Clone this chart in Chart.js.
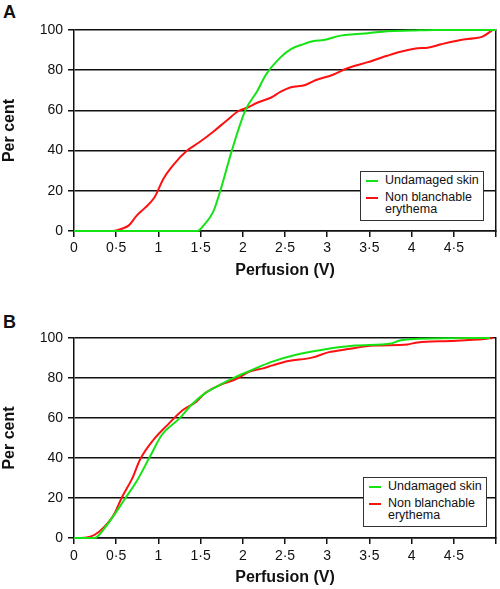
<!DOCTYPE html>
<html>

<head>
  <meta charset="utf-8">
  <script src="https://cdn.jsdelivr.net/npm/chart.js@4.4.0/dist/chart.umd.min.js"></script>
  <style>
    body { margin: 0; background: #fff; font-family: 'Liberation Sans', Arial, sans-serif; }
    #page { position: relative; width: 500px; height: 589px; }
    .panel { position: absolute; left: 0; width: 500px; }
    .tag { position: absolute; left: 3px; font-size: 18px; font-weight: bold; line-height: 18px; color: #111; }
    .legend { position: absolute; box-sizing: border-box; width: 124px; height: 50px; background: #fff;
              border: 1.5px solid #333; padding: 2px 0 0 5px; font-size: 12.5px; color: #111; }
    .item { position: relative; padding-left: 19px; line-height: 13px; }
    .item + .item { margin-top: 5px; line-height: 11.5px; }
    .item span { position: absolute; left: 0; width: 12px; height: 2px; }
  </style>
</head>

<body>
  <div id="page">
    <div class="tag" style="top: 3px">A</div>
    <div class="panel" style="top: 0; height: 290px"><canvas id="chartA" width="500" height="290"></canvas></div>
    <div id="legendA" class="legend" style="left: 360px; top: 171px"></div>

    <div class="tag" style="top: 313px">B</div>
    <div class="panel" style="top: 300px; height: 289px"><canvas id="chartB" width="500" height="289"></canvas></div>
    <div id="legendB" class="legend" style="left: 363px; top: 477px"></div>
  </div>

  <script>
    // series labels
    var seriesNames = ['Undamaged skin', 'Non blanchable erythema'];
    var seriesColors = ['#14e314', '#ff1010'];

    // x tick values (last one has no label)
    var xTicks = [0, 0.5, 1, 1.5, 2, 2.5, 3, 3.5, 4, 4.5, 5];
    var yTicks = [0, 20, 40, 60, 80, 100];

    // panel A - undamaged skin
    var aGreenX = [0, 1.46, 1.54, 1.65, 1.73, 1.87, 2.03, 2.17, 2.27, 2.45, 2.57, 2.72, 2.84, 2.96, 3.16, 3.32, 3.48, 3.71, 4.0, 4.27, 5.0];
    var aGreenY = [0, 0, 3, 9.6, 19.5, 40, 60, 69.5, 77.5, 86.5, 90.5, 93, 94.5, 95, 97.2, 97.9, 98.4, 99.4, 99.7, 100, 100];
    // panel A - non blanchable erythema
    var aRedX = [0, 0.46, 0.56, 0.65, 0.74, 0.84, 0.95, 1.06, 1.18, 1.34, 1.48, 1.65, 1.81, 1.95, 2.05, 2.17, 2.33, 2.45, 2.57, 2.74, 2.86, 3.06, 3.24, 3.48, 3.71, 3.87, 4.07, 4.19, 4.35, 4.58, 4.74, 4.84, 4.96];
    var aRedY = [0, 0, 1, 2.8, 7.5, 11.5, 16.5, 26, 33, 40, 44, 49.4, 55, 59.7, 61.3, 63.8, 66.3, 69.3, 71.5, 72.6, 75, 77.6, 81, 84, 87.2, 89.2, 90.9, 91.2, 92.9, 95, 95.9, 96.7, 100];

    // panel B - undamaged skin
    var bGreenX = [0, 0.24, 0.39, 0.61, 0.74, 0.9, 1.04, 1.25, 1.39, 1.55, 1.69, 1.88, 2.08, 2.2, 2.35, 2.62, 2.93, 3.33, 3.76, 3.86, 4.03, 4.93];
    var bGreenY = [0, 0, 6.5, 20, 28.2, 40.7, 51.5, 59.8, 66.5, 72.3, 75.7, 79.8, 83.5, 85.7, 88.2, 91.5, 94, 96.2, 97.3, 98.7, 99.5, 100];
    // panel B - non blanchable erythema
    var bRedX = [0.05, 0.15, 0.24, 0.35, 0.47, 0.57, 0.69, 0.78, 0.94, 1.1, 1.29, 1.45, 1.55, 1.73, 1.92, 2.08, 2.24, 2.35, 2.54, 2.82, 3.01, 3.25, 3.56, 3.95, 4.07, 4.46, 4.86, 4.96];
    var bRedY = [0, 0.3, 1.5, 5.2, 11.5, 20.5, 29.8, 39, 49, 56.2, 64, 68.2, 72.3, 76.5, 79.5, 83.2, 84.8, 86.3, 88.5, 90.2, 92.8, 94.5, 96.2, 96.8, 97.8, 98.5, 99.5, 100];

    Chart.defaults.font.family = "'Liberation Sans', Arial, sans-serif";
    Chart.defaults.color = '#111';

    function points(xs, ys) {
      return xs.map(function(x, i) { return { x: x, y: ys[i] }; });
    }

    function fmt(v) {
      return String(v).replace('.', '\u00b7');
    }

    function makePanel(id, greenX, greenY, redX, redY, geo) {
      var ctx = document.getElementById(id).getContext('2d');
      var series = [points(greenX, greenY), points(redX, redY)];
      return new Chart(ctx, {
        type: 'line',
        data: {
          datasets: series.map(function(d, i) {
            return {
              label: seriesNames[i],
              data: d,
              borderColor: seriesColors[i],
              borderWidth: 2,
              pointRadius: 0,
              cubicInterpolationMode: 'monotone',
              clip: false
            };
          })
        },
        options: {
          responsive: false,
          animation: false,
          layout: { padding: { top: geo.top, right: geo.right, left: 0, bottom: 0 } },
          plugins: { legend: { display: false }, tooltip: { enabled: false } },
          scales: {
            x: {
              type: 'linear', min: 0, max: 5,
              afterBuildTicks: function(s) { s.ticks = xTicks.map(function(v) { return { value: v }; }); },
              afterFit: function(s) { s.height = geo.xHeight; },
              ticks: {
                autoSkip: false, maxRotation: 0, padding: geo.tickPad,
                font: { size: 14 },
                callback: function(v) { return v === 5 ? '' : fmt(v); }
              },
              grid: { drawOnChartArea: false, drawTicks: true, tickLength: 6, color: '#111', lineWidth: 1.5 },
              border: { display: true, color: '#111', width: 1.5 },
              title: { display: true, text: 'Perfusion (V)', font: { size: 16, weight: 'bold' }, padding: { top: 0, bottom: geo.titlePad } }
            },
            y: {
              min: 0, max: 100,
              afterBuildTicks: function(s) { s.ticks = yTicks.map(function(v) { return { value: v }; }); },
              afterFit: function(s) { s.width = 74; },
              ticks: { padding: 5, font: { size: 14 } },
              grid: { color: '#111', lineWidth: 1.5, tickLength: 6 },
              border: { display: true, color: '#111', width: 1.5 },
              title: { display: true, text: 'Per cent', font: { size: 16, weight: 'bold' }, padding: { top: 0, bottom: 0 } }
            },
            y2: {
              position: 'right', min: 0, max: 100,
              afterFit: function(s) { s.width = 0; },
              ticks: { display: false },
              grid: { drawOnChartArea: false, drawTicks: false },
              border: { display: true, color: '#111', width: 1.5 }
            }
          }
        }
      });
    }

    function makeLegend(id) {
      var el = document.getElementById(id);
      seriesNames.forEach(function(name, i) {
        var item = document.createElement('div');
        item.className = 'item';
        var sw = document.createElement('span');
        sw.style.background = seriesColors[i];
        sw.style.top = i === 0 ? '6px' : '5px';
        item.appendChild(sw);
        item.appendChild(document.createTextNode(name));
        el.appendChild(item);
      });
    }

    makePanel('chartA', aGreenX, aGreenY, aRedX, aRedY, { top: 30, right: 4, xHeight: 59, tickPad: 3, titlePad: 10 });
    makePanel('chartB', bGreenX, bGreenY, bRedX, bRedY, { top: 38, right: 1, xHeight: 51, tickPad: 4, titlePad: 2 });
    makeLegend('legendA');
    makeLegend('legendB');
  </script>
</body>

</html>
